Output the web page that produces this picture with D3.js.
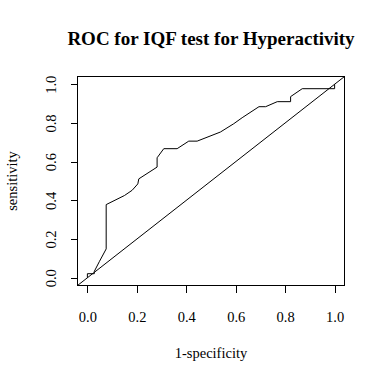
<!DOCTYPE html>
<html><head><meta charset="utf-8">
<script src="https://cdn.jsdelivr.net/npm/d3@7"></script>
<style>body{margin:0;background:#fff}svg{display:block}text{font-family:"Liberation Serif","Times New Roman",serif;fill:#000}</style>
</head><body>
<script>
const fpr = [0, 0, 0.028, 0.028, 0.049, 0.076, 0.076, 0.15, 0.181, 0.204, 0.208, 0.282, 0.282, 0.309, 0.363, 0.41, 0.444, 0.538, 0.592, 0.626, 0.694, 0.721, 0.768, 0.822, 0.822, 0.869, 1.0, 1.0];
const tpr = [0, 0.021, 0.021, 0.033, 0.085, 0.149, 0.378, 0.425, 0.452, 0.485, 0.511, 0.572, 0.62, 0.667, 0.667, 0.706, 0.706, 0.753, 0.796, 0.827, 0.884, 0.884, 0.91, 0.91, 0.936, 0.977, 0.977, 1.0];
const xTicks = [0, 0.2, 0.4, 0.6, 0.8, 1.0];
const yTicks = [0, 0.2, 0.4, 0.6, 0.8, 1.0];
const title = "ROC for IQF test for Hyperactivity";
const xLabel = "1-specificity";
const yLabel = "sensitivity";

const W = 384, H = 383;
const mL = 77.5, mR = 344.5, mT = 76.5, mB = 285.5;
const svg = d3.select("body").append("svg").attr("width", W).attr("height", H);
svg.append("rect").attr("width", W).attr("height", H).attr("fill", "#fff");

const x = d3.scaleLinear().domain([-0.04, 1.04]).range([mL, mR]);
const y = d3.scaleLinear().domain([-0.04, 1.04]).range([mB, mT]);

svg.append("defs").append("clipPath").attr("id", "clip")
  .append("rect").attr("x", mL).attr("y", mT).attr("width", mR - mL).attr("height", mB - mT);

const g = svg.append("g").attr("clip-path", "url(#clip)");
g.append("line").attr("x1", x(-0.04)).attr("y1", y(-0.04)).attr("x2", x(1.04)).attr("y2", y(1.04))
  .attr("stroke", "#000").attr("stroke-width", 1);
const pts = fpr.map((v, i) => [v, tpr[i]]);
g.append("path").datum(pts)
  .attr("d", d3.line().x(d => x(d[0])).y(d => y(d[1])))
  .attr("fill", "none").attr("stroke", "#000").attr("stroke-width", 1);

svg.append("rect").attr("x", mL).attr("y", mT).attr("width", mR - mL).attr("height", mB - mT)
  .attr("fill", "none").attr("stroke", "#000").attr("stroke-width", 1);

const xa = svg.append("g").attr("transform", `translate(0,${mB})`)
  .call(d3.axisBottom(x).tickValues(xTicks).tickFormat(d3.format(".1f")).tickSizeOuter(0).tickSize(7));
xa.select(".domain").remove();
xa.selectAll("line").attr("stroke", "#000").attr("shape-rendering", "crispEdges");
xa.selectAll("text").attr("font-size", 14.5).attr("y", 36.5).attr("dy", null);

const ya = svg.append("g").attr("transform", `translate(${mL},0)`)
  .call(d3.axisLeft(y).tickValues(yTicks).tickFormat(d3.format(".1f")).tickSizeOuter(0).tickSize(7));
ya.select(".domain").remove();
ya.selectAll("line").attr("stroke", "#000").attr("shape-rendering", "crispEdges");
ya.selectAll("text").attr("font-size", 14.5)
  .attr("x", null).attr("dy", null)
  .attr("text-anchor", "middle")
  .attr("transform", "translate(-22,0) rotate(-90)");

svg.append("text").attr("x", (mL + mR) / 2).attr("y", 45).attr("text-anchor", "middle")
  .attr("font-size", 19).attr("font-weight", "bold").text(title);
svg.append("text").attr("x", (mL + mR) / 2).attr("y", 358).attr("text-anchor", "middle")
  .attr("font-size", 14.5).text(xLabel);
svg.append("text").attr("transform", `translate(17,${(mT + mB) / 2}) rotate(-90)`).attr("text-anchor", "middle")
  .attr("font-size", 14.5).text(yLabel);
</script>
</body></html>
